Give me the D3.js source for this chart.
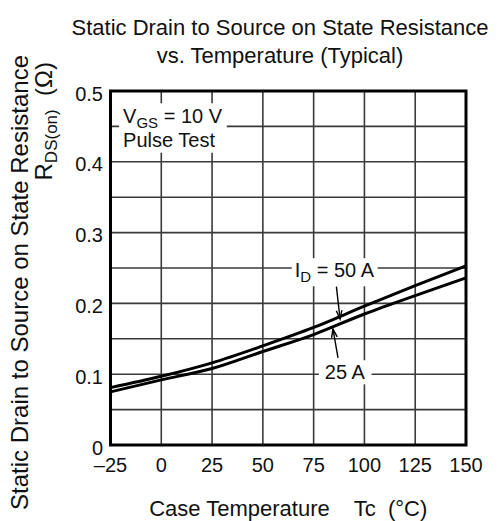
<!DOCTYPE html>
<html>
<head>
<meta charset="utf-8">
<script src="https://cdn.jsdelivr.net/npm/d3@7"></script>
<style>
    body { margin: 0; background: #fff; }
    svg { font-family: "Liberation Sans", Arial, sans-serif; }
    .grid line { stroke: #3a3a3a; stroke-width: 1.6; }
    .curve { fill: none; stroke: #000; stroke-width: 3; }
    .tick-label { font-size: 20px; fill: #111; }
</style>
</head>
<body>
<svg id="chart" width="502" height="521"></svg>
<script>
'use strict';

// case temperature, °C
const temps = [-25, 0, 25, 50, 75, 100, 125, 150];
// RDS(on) in ohms
const rds50A = [0.081, 0.097, 0.116, 0.140, 0.166, 0.196, 0.225, 0.253];
const rds25A = [0.075, 0.092, 0.108, 0.132, 0.156, 0.185, 0.211, 0.236];

const xTicks = [-25, 0, 25, 50, 75, 100, 125, 150];
const xTickLabels = ['–25', '0', '25', '50', '75', '100', '125', '150'];
const yTicks = [0, 0.1, 0.2, 0.3, 0.4, 0.5];
const yTickLabels = ['0', '0.1', '0.2', '0.3', '0.4', '0.5'];
const yGrid = [0.05, 0.1, 0.15, 0.2, 0.25, 0.3, 0.35, 0.4, 0.45];

const svg = d3.select('#chart');
const plotLeft = 110.5, plotRight = 466, plotTop = 91, plotBottom = 445;

const x = d3.scaleLinear().domain([-25, 150]).range([plotLeft, plotRight]);
const y = d3.scaleLinear().domain([0, 0.5]).range([plotBottom, plotTop]);

// grid
const grid = svg.append('g').attr('class', 'grid');
grid.selectAll('.gx')
    .data(xTicks.slice(1, -1))
    .enter().append('line')
    .attr('x1', d => x(d)).attr('x2', d => x(d))
    .attr('y1', plotTop).attr('y2', plotBottom);
grid.selectAll('.gy')
    .data(yGrid)
    .enter().append('line')
    .attr('x1', plotLeft).attr('x2', plotRight)
    .attr('y1', d => y(d)).attr('y2', d => y(d));

// tick labels
svg.append('g').selectAll('text')
    .data(xTicks)
    .enter().append('text')
    .attr('class', 'tick-label')
    .attr('x', d => x(d))
    .attr('y', plotBottom + 27)
    .attr('text-anchor', 'middle')
    .text((d, i) => xTickLabels[i]);

svg.append('g').selectAll('text')
    .data(yTicks)
    .enter().append('text')
    .attr('class', 'tick-label')
    .attr('x', plotLeft - 7.5)
    .attr('y', d => y(d) + 9.5)
    .attr('text-anchor', 'end')
    .text((d, i) => yTickLabels[i]);

// labels with a white box behind them
const boxedText = (g, pad) => {
    const bb = g.node().getBBox();
    g.insert('rect', ':first-child')
        .attr('x', bb.x - pad[0]).attr('y', bb.y - pad[1])
        .attr('width', bb.width + pad[0] * 2).attr('height', bb.height + pad[1] * 2)
        .attr('fill', '#fff');
};

const labels = svg.append('g').style('font-size', '20px').style('fill', '#111');

const vgs = labels.append('g');
const vgsText = vgs.append('text').attr('x', x(-18.8)).attr('y', y(0.4544));
vgsText.append('tspan').text('V');
vgsText.append('tspan').attr('dy', 5).style('font-size', '15px').text('GS');
vgsText.append('tspan').attr('dy', -5).text(' = 10 V');
vgs.append('text').attr('x', x(-18.8)).attr('y', y(0.4544) + 23.4).text('Pulse Test');
boxedText(vgs, [4, 2]);

const id50 = labels.append('g');
const id50Text = id50.append('text').attr('x', x(65.7)).attr('y', y(0.2369));
id50Text.append('tspan').text('I');
id50Text.append('tspan').attr('dy', 5).style('font-size', '15px').text('D');
id50Text.append('tspan').attr('dy', -5).text(' = 50 A');
boxedText(id50, [3, 1]);

const id25 = labels.append('g');
id25.append('text').attr('x', x(80.5)).attr('y', y(0.0928)).text('25 A');
boxedText(id25, [6, 1]);

// curves
const line = d3.line()
    .x((d, i) => x(temps[i]))
    .y(d => y(d))
    .curve(d3.curveMonotoneX);

svg.append('path').datum(rds50A).attr('class', 'curve').attr('d', line);
svg.append('path').datum(rds25A).attr('class', 'curve').attr('d', line);

// leader arrows: [from, to] in data units
const arrows = [
    [[86.2, 0.2236], [88, 0.178]],
    [[87, 0.1229], [84.5, 0.164]]
];
const arrowG = svg.append('g').attr('stroke', '#000').attr('stroke-width', 1.4).attr('fill', 'none');
arrows.forEach(([a, b]) => {
    const x1 = x(a[0]), y1 = y(a[1]), x2 = x(b[0]), y2 = y(b[1]);
    const ang = Math.atan2(y2 - y1, x2 - x1);
    const len = 9, spread = 0.32;
    arrowG.append('line').attr('x1', x1).attr('y1', y1).attr('x2', x2).attr('y2', y2);
    arrowG.append('path').attr('d',
        'M' + (x2 - len * Math.cos(ang - spread)) + ',' + (y2 - len * Math.sin(ang - spread)) +
        'L' + x2 + ',' + y2 +
        'L' + (x2 - len * Math.cos(ang + spread)) + ',' + (y2 - len * Math.sin(ang + spread)));
});

// frame
svg.append('rect')
    .attr('x', plotLeft).attr('y', plotTop)
    .attr('width', plotRight - plotLeft).attr('height', plotBottom - plotTop)
    .attr('fill', 'none').attr('stroke', '#000').attr('stroke-width', 3);

// titles
const title = svg.append('text').attr('text-anchor', 'middle').style('font-size', '22px').style('fill', '#111');
title.append('tspan').attr('x', 280).attr('y', 35).text('Static Drain to Source on State Resistance');
title.append('tspan').attr('x', 280).attr('y', 63).text('vs. Temperature (Typical)');

svg.append('text')
    .attr('x', (plotLeft + plotRight) / 2).attr('y', 516)
    .attr('text-anchor', 'middle')
    .style('font-size', '22px').style('fill', '#111')
    .attr('xml:space', 'preserve')
    .text('Case Temperature    Tc  (°C)');

const yTitle = svg.append('g').style('font-size', '24px').style('fill', '#111');
yTitle.append('text')
    .attr('transform', 'translate(28,55) rotate(-90)')
    .attr('text-anchor', 'end')
    .text('Static Drain to Source on State Resistance');
const rdsLabel = yTitle.append('text')
    .attr('transform', 'translate(52,62) rotate(-90)')
    .attr('text-anchor', 'end')
    .attr('xml:space', 'preserve');
rdsLabel.append('tspan').text('R');
rdsLabel.append('tspan').attr('dy', 5).style('font-size', '17px').text('DS(on)');
rdsLabel.append('tspan').attr('dy', -5).text('  (Ω)');
</script>
</body>
</html>
